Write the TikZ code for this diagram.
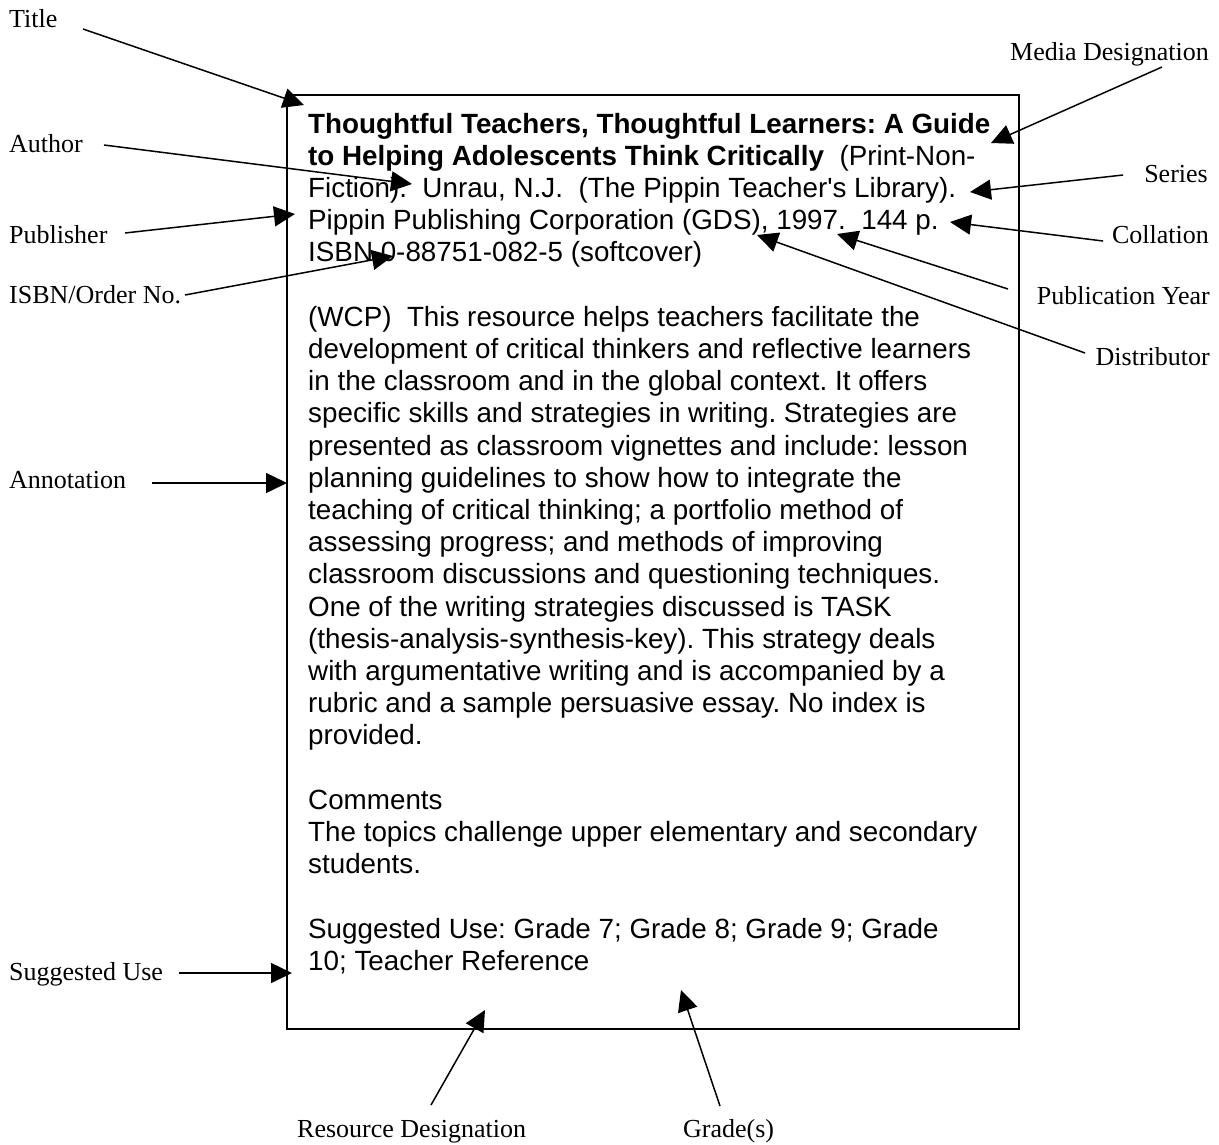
\documentclass[tikz,border=0pt]{standalone}
\usepackage{fontspec}
\setmainfont{Liberation Serif}
\newfontfamily\boxfont{Liberation Sans}[Ligatures=TeXOff]
\usetikzlibrary{arrows.meta}
\frenchspacing
\begin{document}
\begin{tikzpicture}[x=1pt,y=-1pt,
  lbl/.style={font=\fontsize{26}{30}\selectfont, inner sep=0pt, anchor=base west},
  lblr/.style={lbl, anchor=base east},
  ln/.style={font=\boxfont\fontsize{27.8}{32}\selectfont, inner sep=0pt, anchor=base west},
  arr/.style={line width=1.5pt, -{Triangle[length=21pt,width=20pt]}},
  card/.style={draw, line width=1.5pt}]
\useasboundingbox (0,0) rectangle (1219,1144);
% card
\draw[card] (287,95) rectangle (1019,1029);
% card text lines
\node[ln] (l1)  at (308,133)   {\textbf{Thoughtful Teachers, Thoughtful Learners: A Guide}};
\node[ln] (l2)  at (308,165.2) {\textbf{to Helping Adolescents Think Critically}\ \ (Print-Non-};
\node[ln] (l3)  at (308,197.4) {Fiction).\ \ Unrau, N.J.\ \ (The Pippin Teacher's Library).};
\node[ln] (l4)  at (308,229.6) {Pippin Publishing Corporation (GDS), 1997.\ \ 144 p.};
\node[ln] (l5)  at (308,261.8) {ISBN 0-88751-082-5 (softcover)};
\node[ln] (l7)  at (308,326.2) {(WCP)\ \ This resource helps teachers facilitate the};
\node[ln] (l8)  at (308,358.4) {development of critical thinkers and reflective learners};
\node[ln] (l9)  at (308,390.6) {in the classroom and in the global context. It offers};
\node[ln] (l10) at (308,422.8) {specific skills and strategies in writing. Strategies are};
\node[ln] (l11) at (308,455)   {presented as classroom vignettes and include: lesson};
\node[ln] (l12) at (308,487.2) {planning guidelines to show how to integrate the};
\node[ln] (l13) at (308,519.4) {teaching of critical thinking; a portfolio method of};
\node[ln] (l14) at (308,551.6) {assessing progress; and methods of improving};
\node[ln] (l15) at (308,583.8) {classroom discussions and questioning techniques.};
\node[ln] (l16) at (308,616)   {One of the writing strategies discussed is TASK};
\node[ln] (l17) at (308,648.2) {(thesis-analysis-synthesis-key). This strategy deals};
\node[ln] (l18) at (308,680.4) {with argumentative writing and is accompanied by a};
\node[ln] (l19) at (308,712.6) {rubric and a sample persuasive essay. No index is};
\node[ln] (l20) at (308,744.8) {provided.};
\node[ln] (l22) at (308,809.2) {Comments};
\node[ln] (l23) at (308,841.4) {The topics challenge upper elementary and secondary};
\node[ln] (l24) at (308,873.6) {students.};
\node[ln] (l26) at (308,938)   {Suggested Use: Grade 7; Grade 8; Grade 9; Grade};
\node[ln] (l27) at (308,970.2) {10; Teacher Reference};
% labels
\node[lbl] (title) at (9,27) {Title};
\node[lbl] (author) at (9,152) {Author};
\node[lbl] (publisher) at (9,243) {Publisher};
\node[lbl] (isbn) at (9,303) {ISBN/Order No.};
\node[lbl] (annot) at (9,488) {Annotation};
\node[lbl] (sugg) at (9,980) {Suggested Use};
\node[lblr] (media) at (1209,60) {Media Designation};
\node[lblr] (series) at (1208,182) {Series};
\node[lblr] (coll) at (1209,243) {Collation};
\node[lblr] (pubyear) at (1210,304) {Publication Year};
\node[lblr] (dist) at (1210,365) {Distributor};
\node[lbl] (resdes) at (297,1137) {Resource Designation};
\node[lbl] (grades) at (683,1137) {Grade(s)};
% connector end points
\coordinate (sTitle) at (83,29);     \coordinate (tTitle) at (304,105);
\coordinate (sAuthor) at (104,145);  \coordinate (tAuthor) at (412,184);
\coordinate (sPub) at (125,233);     \coordinate (tPub) at (295,214);
\coordinate (sIsbn) at (185,295);    \coordinate (tIsbn) at (393,256);
\coordinate (sAnnot) at (152,483);   \coordinate (tAnnot) at (287,483);
\coordinate (sSugg) at (179,973);    \coordinate (tSugg) at (292,973);
\coordinate (sMedia) at (1162,67);   \coordinate (tMedia) at (991,143);
\coordinate (sSeries) at (1123,175); \coordinate (tSeries) at (970,192);
\coordinate (sColl) at (1103,241);   \coordinate (tColl) at (950,222);
\coordinate (sYear) at (1008,289);   \coordinate (tYear) at (837,234);
\coordinate (sDist) at (1085,353);   \coordinate (tDist) at (757,235);
\coordinate (sRes) at (431,1105);    \coordinate (tRes) at (485,1010);
\coordinate (sGrade) at (720,1106);  \coordinate (tGrade) at (681,990);
% connectors
\draw[arr] (sTitle) -- (tTitle);
\draw[arr] (sAuthor) -- (tAuthor);
\draw[arr] (sPub) -- (tPub);
\draw[arr] (sIsbn) -- (tIsbn);
\draw[arr] (sAnnot) -- (tAnnot);
\draw[arr] (sSugg) -- (tSugg);
\draw[arr] (sMedia) -- (tMedia);
\draw[arr] (sSeries) -- (tSeries);
\draw[arr] (sColl) -- (tColl);
\draw[arr] (sYear) -- (tYear);
\draw[arr] (sDist) -- (tDist);
\draw[arr] (sRes) -- (tRes);
\draw[arr] (sGrade) -- (tGrade);
\end{tikzpicture}
\end{document}
